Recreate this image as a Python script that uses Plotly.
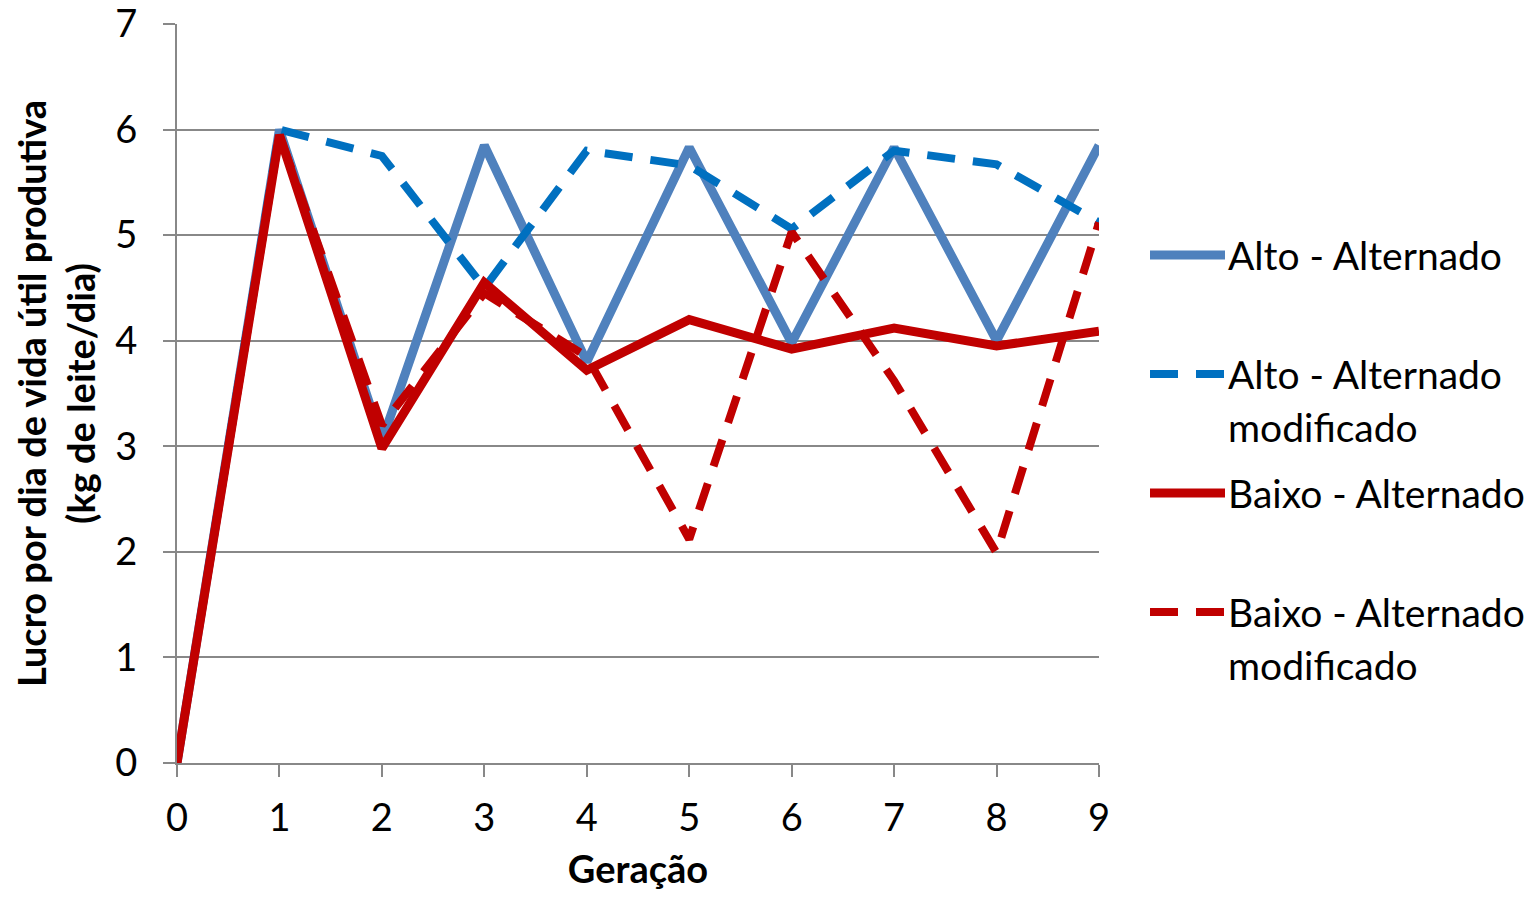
import plotly.graph_objects as go

geracao = [0, 1, 2, 3, 4, 5, 6, 7, 8, 9]
alto_alt = [0, 6.0, 3.05, 5.85, 3.8, 5.83, 3.98, 5.83, 4.0, 5.85]
alto_mod = [0, 6.0, 5.75, 4.5, 5.8, 5.66, 5.06, 5.8, 5.67, 5.12]
baixo_alt = [0, 5.95, 2.98, 4.55, 3.72, 4.2, 3.92, 4.12, 3.95, 4.09]
baixo_mod = [0, 5.95, 3.2, 4.45, 3.85, 2.12, 5.03, 3.62, 1.99, 5.12]
y_ticks = [0, 1, 2, 3, 4, 5, 6, 7]

names = ["Alto - Alternado", "Alto - Alternado<br>modificado",
         "Baixo - Alternado", "Baixo - Alternado<br>modificado"]
series = [alto_alt, alto_mod, baixo_alt, baixo_mod]
colors = ["#4F81BD", "#0070C0", "#C00000", "#C00000"]
dashes = ["solid", "28px,18px", "solid", "28px,18px"]
widths = [9, 8, 9, 8]

FONT = "Lato"
FS = 38

fig = go.Figure()
for y, n, c, d, w in zip(series, names, colors, dashes, widths):
    fig.add_trace(go.Scatter(x=geracao, y=y, mode="lines", name=n,
                             line=dict(color=c, dash=d, width=w),
                             showlegend=False, cliponaxis=False))

# custom legend (positions in page pixels converted to paper coords)
PL, PR, PT, PB = 177, 1099, 24, 763
W = PR - PL
H = PB - PT
rows_py = [255, 374, 493, 612]
for n, c, d, w, py in zip(names, colors, dashes, widths, rows_py):
    yp = (PB - py) / H
    fig.add_shape(type="line", xref="paper", yref="paper",
                  x0=(1150 - PL) / W, x1=(1225 - PL) / W, y0=yp, y1=yp,
                  line=dict(color=c, dash=d, width=w))
    for i, part in enumerate(n.split("<br>")):
        fig.add_annotation(xref="paper", yref="paper", x=(1226 - PL) / W,
                           y=(PB - (py + 53 * i)) / H, text=part,
                           showarrow=False, xanchor="left", yanchor="middle",
                           font=dict(family=FONT, size=39, color="black"))

# page has an 8px body margin
OFF = 8
FW, FH = 1534 - 2 * OFF, 899 - 2 * OFF
fig.update_layout(
    width=FW, height=FH,
    margin=dict(l=PL - OFF, r=FW - (PR - OFF), t=PT - OFF, b=FH - (PB - OFF)),
    plot_bgcolor="white", paper_bgcolor="white",
    font=dict(family=FONT, size=FS, color="black"),
    xaxis=dict(range=[0, 9], tickmode="array", tickvals=geracao,
               showgrid=False, zeroline=False, showline=True,
               linecolor="#888888", linewidth=2, ticks="outside",
               ticklen=12, tickwidth=2, tickcolor="#888888",
               ticklabelstandoff=8, automargin=False, ticklabeloverflow="allow",
               tickfont=dict(family=FONT, size=FS),
               title=dict(text="<b>Geração</b>", standoff=25,
                          font=dict(family=FONT, size=FS))),
    yaxis=dict(range=[0, 7], tickmode="array", tickvals=y_ticks,
               showgrid=True, gridcolor="#888888",
               gridwidth=2, zeroline=False, showline=True,
               linecolor="#888888", linewidth=2, ticks="outside",
               ticklen=12, tickwidth=2, tickcolor="#888888",
               ticklabelstandoff=18, automargin=False, ticklabeloverflow="allow",
               tickfont=dict(family=FONT, size=FS),
               title=dict(text="<b>Lucro por dia de vida útil produtiva<br>(kg de leite/dia)</b>",
                          standoff=23, font=dict(family=FONT, size=FS))),
)

fig.write_html("out.html")
